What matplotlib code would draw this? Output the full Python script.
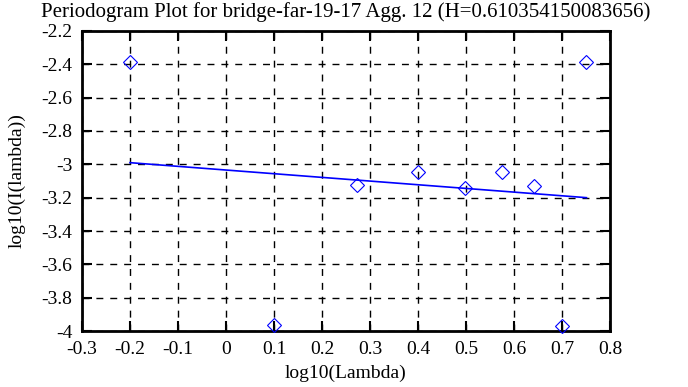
import matplotlib
matplotlib.use("Agg")
import matplotlib.pyplot as plt

# Periodogram points, log10 of frequency vs log10 of I(lambda)
log_lambda = [-0.2, 0.1, 0.273, 0.399, 0.498, 0.576, 0.642, 0.7, 0.751]
log_i = [-2.384, -3.964, -3.124, -3.044, -3.14, -3.044, -3.13, -3.968, -2.384]

# Fitted regression line ends
fit_x = [-0.2, 0.751]
fit_y = [-2.99, -3.2]

plt.rcParams["font.family"] = ["Liberation Serif", "DejaVu Serif"]

fig = plt.figure(figsize=(6.88, 3.87), dpi=100)
ax = fig.add_axes([0.1192, 0.1447, 0.7674, 0.7752])

ax.plot(log_lambda, log_i, linestyle="none", marker="D", markersize=7,
        markerfacecolor="none", markeredgecolor="blue", markeredgewidth=0.8,
        clip_on=False, zorder=3)
ax.plot(fit_x, fit_y, color="blue", linewidth=1.2)

ax.set_xlim(-0.3, 0.8)
ax.set_ylim(-4, -2.2)
ax.set_xticks([-0.3 + 0.1 * i for i in range(12)])
ax.set_xticklabels(["-0.3", "-0.2", "-0.1", "0", "0.1", "0.2", "0.3",
                    "0.4", "0.5", "0.6", "0.7", "0.8"])
ax.set_yticks([-4 + 0.2 * i for i in range(10)])
ax.set_yticklabels(["-4", "-3.8", "-3.6", "-3.4", "-3.2", "-3", "-2.8",
                    "-2.6", "-2.4", "-2.2"])

ax.grid(True, color="black", linestyle=(0, (5, 5)), linewidth=1)
ax.tick_params(direction="in", length=7, width=1.5, top=True, right=True,
               labelsize=14, pad=7)
for s in ax.spines.values():
    s.set_linewidth(2)

ax.set_title("Periodogram Plot for bridge-far-19-17 Agg. 12 (H=0.610354150083656)",
             fontsize=15, pad=10)
ax.set_xlabel("log10(Lambda)", fontsize=14, labelpad=5)
ax.set_ylabel("log10(I(lambda))", fontsize=14, labelpad=11)

fig.savefig("out.png", dpi=100)
